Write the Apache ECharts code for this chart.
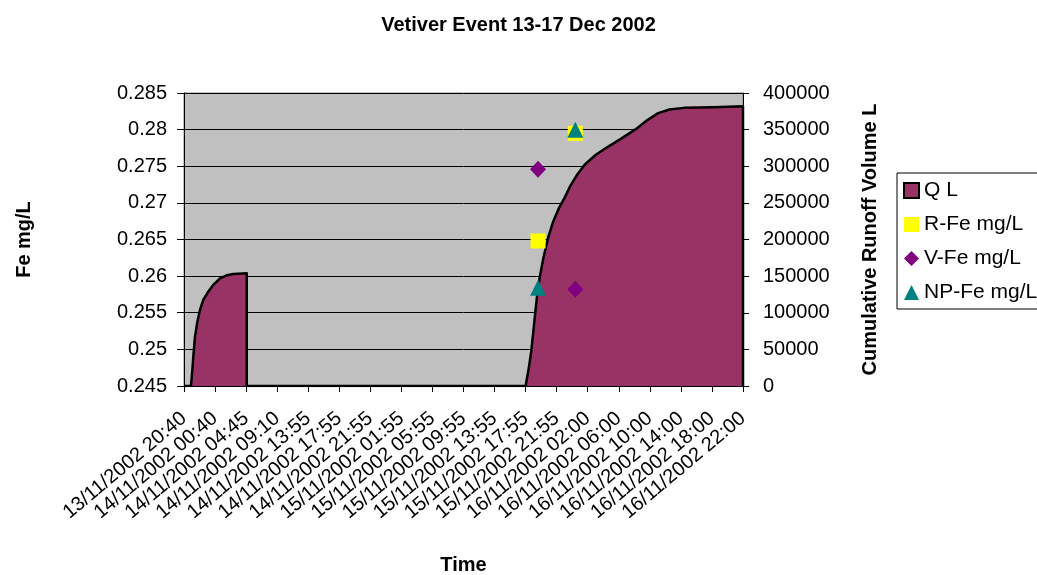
<!DOCTYPE html>
<html>
<head>
<meta charset="utf-8">
<script src="https://cdn.jsdelivr.net/npm/echarts@6/dist/echarts.min.js"></script>
<style>
html,body{margin:0;padding:0;background:#fff;}
#chart{width:1037px;height:575px;}
</style>
</head>
<body>
<div id="chart"></div>
<script>
// ---- data ----
var timeLabels = [
  '13/11/2002 20:40','14/11/2002 00:40','14/11/2002 04:45','14/11/2002 09:10',
  '14/11/2002 13:55','14/11/2002 17:55','14/11/2002 21:55','15/11/2002 01:55',
  '15/11/2002 05:55','15/11/2002 09:55','15/11/2002 13:55','15/11/2002 17:55',
  '15/11/2002 21:55','16/11/2002 02:00','16/11/2002 06:00','16/11/2002 10:00',
  '16/11/2002 14:00','16/11/2002 18:00','16/11/2002 22:00'
];
// cumulative runoff volume Q L : [time position (label index), litres]
var qPos = [0, 0.225, 0.268, 0.30, 0.354, 0.43, 0.515, 0.62, 0.78, 0.94, 1.16, 1.37, 1.59, 2.02, 2.02,
            11.0, 11.10, 11.18, 11.27, 11.36, 11.45, 11.57, 11.72, 11.89, 12.07, 12.25, 12.43, 12.66,
            12.90, 13.26, 13.61, 14.09, 14.56, 14.92, 15.27, 15.63, 16.10, 17.05, 18.0, 18.0];
var qVal = [0, 0, 21800, 40000, 67300, 87800, 103800, 117400, 128800, 137900, 147000, 151100, 152900, 153800, 0,
            0, 24100, 46900, 83400, 119800, 147200, 174500, 201800, 224600, 242800, 256500, 272400, 288400,
            302100, 315700, 325500, 338000, 351000, 363000, 372500, 377500, 379700, 380500, 381800, 0];
// sample times (label index) and Fe concentrations mg/L
var samplePos = [11.4, 12.6];
var rFe = [0.2648, 0.2795];
var vFe = [0.2746, 0.2582];
var npFe = [0.2584, 0.2800];

var FONT = 'Liberation Sans, Arial, sans-serif';

function pairs(xs, ys){ return xs.map(function(x,i){ return [x, ys[i]]; }); }

var chart = echarts.init(document.getElementById('chart'), null, {renderer:'canvas'});
chart.setOption({
  backgroundColor: '#ffffff',
  animation: false,
  title: {
    text: 'Vetiver Event 13-17 Dec 2002',
    left: 'center', top: 10,
    textStyle: {fontFamily: FONT, fontSize: 20, fontWeight: 'bold', color: '#000'}
  },
  legend: {
    orient: 'vertical',
    left: 897, top: 173,
    padding: [7, 40, 6, 6],
    itemGap: 13,
    itemWidth: 15, itemHeight: 15,
    borderColor: '#000', borderWidth: 1,
    textStyle: {fontFamily: FONT, fontSize: 21, color: '#000'},
    data: [
      {name: 'Q L', icon: 'rect', itemStyle: {color: '#993366', borderColor: '#000', borderWidth: 2}},
      {name: 'R-Fe mg/L', icon: 'rect', itemStyle: {color: '#FFFF00', opacity: 1}},
      {name: 'V-Fe mg/L', icon: 'diamond', itemStyle: {color: '#800080', opacity: 1}},
      {name: 'NP-Fe mg/L', icon: 'triangle', itemStyle: {color: '#008080', opacity: 1}}
    ]
  },
  grid: {
    left: 184, top: 93, right: 294, bottom: 189,
    containLabel: false, outerBoundsMode: 'none',
    show: true, backgroundColor: '#C0C0C0', borderColor: '#808080', borderWidth: 1
  },
  xAxis: {
    type: 'value', min: 0, max: 18, interval: 1,
    name: 'Time', nameLocation: 'middle', nameGap: 169,
    nameTextStyle: {fontFamily: FONT, fontSize: 20, fontWeight: 'bold', color: '#000'},
    axisLine: {show: true, onZero: false, lineStyle: {color: '#000', width: 1}},
    axisTick: {show: true, length: 6, lineStyle: {color: '#000'}},
    splitLine: {show: false},
    axisLabel: {
      rotate: 40, margin: 30, color: '#000', fontFamily: FONT, fontSize: 20,
      formatter: function(v){ return timeLabels[Math.round(v)] || ''; }
    }
  },
  yAxis: [{
    type: 'value', position: 'left', min: 0.245, max: 0.285, interval: 0.005,
    name: 'Fe mg/L', nameLocation: 'middle', nameGap: 150, nameRotate: 90,
    nameTextStyle: {fontFamily: FONT, fontSize: 20, fontWeight: 'bold', color: '#000'},
    axisLine: {show: true, lineStyle: {color: '#000', width: 1}},
    axisTick: {show: true, length: 7, lineStyle: {color: '#000'}},
    splitLine: {show: true, lineStyle: {color: '#000', width: 1}},
    axisLabel: {
      margin: 17, color: '#000', fontFamily: FONT, fontSize: 20,
      formatter: function(v){ return String(parseFloat(v.toFixed(3))); }
    }
  }, {
    type: 'value', position: 'right', min: 0, max: 400000, interval: 50000,
    name: 'Cumulative Runoff Volume L', nameLocation: 'middle', nameGap: 117, nameRotate: 90,
    nameTextStyle: {fontFamily: FONT, fontSize: 20, fontWeight: 'bold', color: '#000'},
    axisLine: {show: true, lineStyle: {color: '#000', width: 1}},
    axisTick: {show: true, length: 6, lineStyle: {color: '#000'}},
    splitLine: {show: false},
    axisLabel: {
      margin: 20, color: '#000', fontFamily: FONT, fontSize: 20,
      formatter: function(v){ return String(Math.round(v)); }
    }
  }],
  series: [{
    name: 'Q L', type: 'line', yAxisIndex: 1,
    data: pairs(qPos, qVal),
    showSymbol: false, symbol: 'none', smooth: false,
    lineStyle: {color: '#000', width: 2.5, join: 'round'},
    itemStyle: {color: '#993366', borderColor: '#000'},
    areaStyle: {color: '#993366', opacity: 1},
    z: 2
  }, {
    name: 'R-Fe mg/L', type: 'scatter', yAxisIndex: 0,
    data: pairs(samplePos, rFe),
    symbol: 'rect', symbolSize: 15,
    itemStyle: {color: '#FFFF00', opacity: 1}, z: 3
  }, {
    name: 'V-Fe mg/L', type: 'scatter', yAxisIndex: 0,
    data: pairs(samplePos, vFe),
    symbol: 'diamond', symbolSize: [16, 17],
    itemStyle: {color: '#800080', opacity: 1}, z: 4
  }, {
    name: 'NP-Fe mg/L', type: 'scatter', yAxisIndex: 0,
    data: pairs(samplePos, npFe),
    symbol: 'triangle', symbolSize: [16, 16],
    itemStyle: {color: '#008080', opacity: 1}, z: 5
  }]
});
</script>
</body>
</html>
